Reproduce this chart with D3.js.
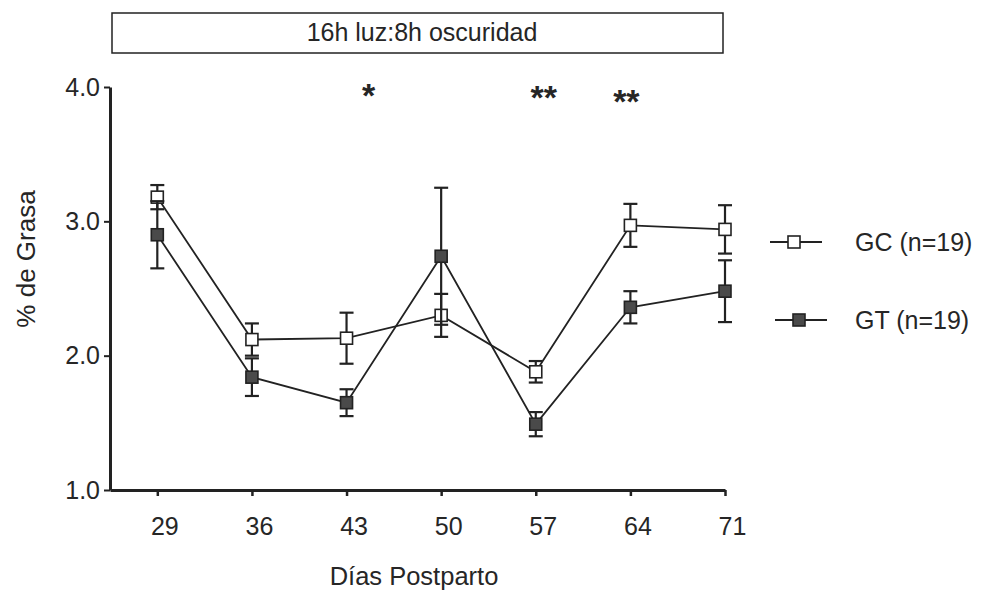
<!DOCTYPE html>
<html>
<head>
<meta charset="utf-8">
<script src="https://cdn.jsdelivr.net/npm/d3@7"></script>
<style>
  body { margin: 0; background: #fff; }
  svg { display: block; }
  text { font-family: "Liberation Sans", Arial, sans-serif; fill: #262626; }
</style>
</head>
<body>
<svg id="chart" width="982" height="593"></svg>
<script>
"use strict";

// data
const days = [29, 36, 43, 50, 57, 64, 71];
const gcMean = [3.18, 2.12, 2.13, 2.30, 1.88, 2.97, 2.94];
const gcErr  = [0.09, 0.12, 0.19, 0.16, 0.08, 0.16, 0.18];
const gtMean = [2.90, 1.84, 1.65, 2.74, 1.49, 2.36, 2.48];
const gtErr  = [0.25, 0.14, 0.10, 0.51, 0.09, 0.12, 0.23];
const yTicks = [1.0, 2.0, 3.0, 4.0];
const sigDays = [43, 57, 64];
const sigMarks = ["*", "**", "**"];
const seriesNames = ["GC (n=19)", "GT (n=19)"];
const title = "16h luz:8h oscuridad";

const ink = "#222";
const font = "'Liberation Sans', Arial, sans-serif";
const svg = d3.select("#chart");

const x = d3.scaleLinear().domain([25.5, 71]).range([110, 725]);
const y = d3.scaleLinear().domain([1, 4]).range([490, 87]);

// title box
svg.append("rect")
    .attr("x", 112).attr("y", 13)
    .attr("width", 611).attr("height", 40)
    .attr("fill", "none").attr("stroke", ink).attr("stroke-width", 1.5);
svg.append("text")
    .attr("x", 422).attr("y", 41)
    .attr("text-anchor", "middle")
    .attr("font-size", 25)
    .text(title);

// axes
const xAxis = d3.axisBottom(x).tickValues(days).tickSize(6).tickPadding(21).tickSizeOuter(0);
const gx = svg.append("g").attr("transform", "translate(0,490)").call(xAxis);
gx.select(".domain").attr("stroke", ink).attr("stroke-width", 3);
gx.selectAll(".tick line").attr("stroke", ink).attr("stroke-width", 2.5);
gx.selectAll(".tick text").attr("font-size", 25).attr("fill", "#262626")
    .attr("font-family", font).attr("dx", 7);

const yAxis = d3.axisLeft(y).tickValues(yTicks).tickFormat(d3.format(".1f")).tickSize(6).tickPadding(4).tickSizeOuter(0);
const gy = svg.append("g").attr("transform", "translate(110,0)").call(yAxis);
gy.select(".domain").attr("stroke", ink).attr("stroke-width", 3);
gy.selectAll(".tick line").attr("stroke", ink).attr("stroke-width", 2);
gy.selectAll(".tick text").attr("font-size", 25).attr("fill", "#262626")
    .attr("font-family", font);

// axis titles
svg.append("text")
    .attr("x", 414).attr("y", 585)
    .attr("text-anchor", "middle")
    .attr("font-size", 25.5)
    .text("Días Postparto");
svg.append("text")
    .attr("transform", "translate(35,259) rotate(-90)")
    .attr("text-anchor", "middle")
    .attr("font-size", 26)
    .text("% de Grasa");

// significance marks (drawn a bit off their day, as in the figure)
const sigDx = [22, 8, -4];
const sigY = [107, 109, 113];
svg.selectAll("text.sig")
    .data(sigDays)
    .enter().append("text")
    .attr("class", "sig")
    .attr("x", (d, i) => x(d) + sigDx[i])
    .attr("y", (d, i) => sigY[i])
    .attr("text-anchor", "middle")
    .attr("font-size", 34)
    .attr("font-weight", "bold")
    .text((d, i) => sigMarks[i]);

function drawSeries(means, errs, fill) {
    const pts = days.map((d, i) => ({day: d, v: means[i], e: errs[i]}));
    const g = svg.append("g");

    const line = d3.line().x(d => x(d.day)).y(d => y(d.v));
    g.append("path")
        .datum(pts)
        .attr("d", line)
        .attr("fill", "none")
        .attr("stroke", ink)
        .attr("stroke-width", 1.8);

    const eb = g.selectAll("g.err").data(pts).enter().append("g").attr("class", "err")
        .attr("stroke", ink).attr("stroke-width", 2.2);
    eb.append("line")
        .attr("x1", d => x(d.day)).attr("x2", d => x(d.day))
        .attr("y1", d => y(d.v + d.e)).attr("y2", d => y(d.v - d.e));
    eb.append("line")
        .attr("x1", d => x(d.day) - 7).attr("x2", d => x(d.day) + 7)
        .attr("y1", d => y(d.v + d.e)).attr("y2", d => y(d.v + d.e));
    eb.append("line")
        .attr("x1", d => x(d.day) - 7).attr("x2", d => x(d.day) + 7)
        .attr("y1", d => y(d.v - d.e)).attr("y2", d => y(d.v - d.e));

    g.selectAll("rect").data(pts).enter().append("rect")
        .attr("x", d => x(d.day) - 6).attr("y", d => y(d.v) - 6)
        .attr("width", 12).attr("height", 12)
        .attr("fill", fill).attr("stroke", ink).attr("stroke-width", 1.6);
}

drawSeries(gcMean, gcErr, "#fff");
drawSeries(gtMean, gtErr, "#4a4a4a");

// legend
const legend = [
    {name: seriesNames[0], fill: "#fff", x0: 770, y0: 242},
    {name: seriesNames[1], fill: "#4a4a4a", x0: 775, y0: 320}
];
const lg = svg.selectAll("g.legend").data(legend).enter().append("g").attr("class", "legend");
lg.append("line")
    .attr("x1", d => d.x0).attr("x2", d => d.x0 + 52)
    .attr("y1", d => d.y0).attr("y2", d => d.y0)
    .attr("stroke", ink).attr("stroke-width", 2);
lg.append("rect")
    .attr("x", d => d.x0 + 18).attr("y", d => d.y0 - 6)
    .attr("width", 12).attr("height", 12)
    .attr("fill", d => d.fill).attr("stroke", ink).attr("stroke-width", 1.6);
lg.append("text")
    .attr("x", 855).attr("y", d => d.y0 + 9)
    .attr("font-size", 25)
    .text(d => d.name);
</script>
</body>
</html>
